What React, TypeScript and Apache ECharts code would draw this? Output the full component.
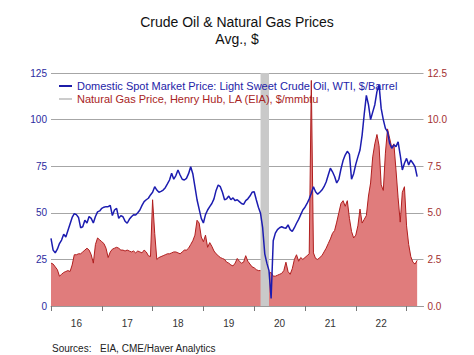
import React, { useEffect, useRef } from "react";
import * as echarts from "echarts";

// Semi-monthly observations (1st half / 2nd half of each month)
const oil2016 = [36.3, 30, 28.5, 30.5, 33.5, 35.4, 38.5, 37, 40.5, 44, 47.5, 49.5, 49, 47.5, 42, 42.5, 46, 44.5, 48, 47, 44.5, 48, 50.5, 51];
const oil2017 = [52.4, 53, 53.3, 53.3, 54, 48.5, 51.5, 52.4, 47, 48.5, 47.9, 45.5, 44.4, 46.5, 47.9, 49, 48.8, 50, 51.5, 54, 56, 57, 57.8, 59.6];
const oil2018 = [61, 64, 62.2, 61, 61.5, 62.2, 63.5, 65.5, 67.6, 71.2, 68, 70, 73, 70.3, 68, 67.6, 68.5, 71, 74.7, 71, 64, 57, 52, 47];
const oil2019 = [44.5, 49, 51.5, 53.3, 55, 57.5, 62, 64.9, 64, 61, 57, 57.5, 59, 57, 58, 56.5, 57, 56, 55, 54.5, 56.5, 57.5, 59, 61];
const oil2020 = [61.3, 57, 53, 49.7, 42, 28, 23, 19, 4, 35, 39.1, 41, 42, 42.5, 42, 41.7, 43.5, 41, 40, 42, 44.4, 46.5, 49, 51.5];
const oil2021 = [53, 55, 57.5, 60.5, 64, 61.3, 60, 61, 62.2, 64, 66.5, 70.3, 73.9, 72, 69.5, 66, 68, 73.5, 78, 81, 83, 81.5, 68, 71];
const oil2022 = [76, 80, 83.7, 91.7, 103, 113, 108, 100, 104, 108, 115, 118.6, 106, 100, 95.3, 93.5, 87.3, 84.6, 86.5, 85.5, 88.1, 81, 73, 76.6];
const oil2023 = [79.2, 75.7, 78.3, 76.6, 74.7, 69.4];

const gas2016 = [2.3, 2.25, 2.1, 1.95, 1.6, 1.7, 1.8, 1.85, 1.9, 1.85, 2.2, 2.75, 2.75, 2.8, 2.8, 2.9, 3.0, 3.1, 3.0, 2.75, 2.3, 3.3, 3.65, 3.55];
const gas2017 = [3.45, 3.35, 3.1, 2.6, 2.9, 3.05, 3.1, 3.15, 3.1, 3.0, 3.0, 2.95, 3.0, 2.95, 2.9, 2.95, 2.85, 2.95, 2.9, 2.85, 3.0, 2.9, 2.7, 2.65];
const gas2018 = [5.7, 3.9, 2.5, 2.6, 2.65, 2.7, 2.75, 2.8, 2.8, 2.85, 2.9, 2.9, 2.85, 2.8, 2.9, 3.0, 3.0, 3.1, 3.3, 3.5, 3.8, 4.6, 4.45, 3.7];
const gas2019 = [3.45, 3.8, 3.15, 3.4, 3.2, 2.95, 2.8, 2.7, 2.6, 2.55, 2.5, 2.35, 2.3, 2.2, 2.15, 2.3, 2.55, 2.4, 2.3, 2.35, 2.7, 2.4, 2.25, 2.1];
const gas2020 = [2.05, 1.95, 1.9, 1.9, 1.8, 1.75, 2.2, 1.75, 1.8, 1.6, 1.6, 1.65, 1.7, 1.75, 1.9, 2.35, 1.85, 1.7, 2.0, 2.5, 2.75, 2.4, 2.6, 2.5];
const gas2021 = [2.6, 2.7, 2.8, 12.1, 2.85, 2.55, 2.5, 2.6, 2.7, 2.9, 3.1, 3.35, 3.6, 3.9, 4.05, 4.5, 5.0, 5.5, 5.65, 5.35, 5.65, 4.7, 4.0, 3.65];
const gas2022 = [3.8, 4.3, 5.2, 4.45, 4.65, 4.85, 5.9, 6.6, 8.0, 8.7, 9.2, 8.6, 6.5, 6.2, 8.2, 9.5, 9.0, 8.5, 8.7, 7.3, 5.8, 4.5, 6.1, 6.4];
const gas2023 = [4.3, 3.3, 2.65, 2.35, 2.25, 2.45];

const firstYear = 2016;
const recessionStart = "2020-02-16";
const recessionEnd = "2020-04-16";

const OIL_NAME = "Domestic Spot Market Price: Light Sweet Crude Oil, WTI, $/Barrel";
const GAS_NAME = "Natural Gas Price, Henry Hub, LA (EIA), $/mmbtu";
const TITLE = "Crude Oil & Natural Gas Prices\nAvg., $";

const FONT = "'Liberation Sans', Arial, sans-serif";

export default function App() {
  const ref = useRef<HTMLDivElement>(null);
  useEffect(() => {
    if (!ref.current) return;
    const chart = echarts.init(ref.current, null, { renderer: "svg" });
    const oil = [...oil2016, ...oil2017, ...oil2018, ...oil2019, ...oil2020, ...oil2021, ...oil2022, ...oil2023];
    const gas = [...gas2016, ...gas2017, ...gas2018, ...gas2019, ...gas2020, ...gas2021, ...gas2022, ...gas2023];
    const pad = 3;
    const n = oil.length + pad;
    const categories = Array.from({ length: n }, (_, i) => {
      const y = firstYear + Math.floor(i / 24);
      const m = Math.floor((i % 24) / 2) + 1;
      return `${y}-${String(m).padStart(2, "0")}-${i % 2 ? "16" : "01"}`;
    });
    const oilData = categories.map((_, i) => (i < oil.length ? oil[i] : null));
    const gasData = categories.map((_, i) => (i < gas.length ? gas[i] : null));

    chart.setOption({
      animation: false,
      backgroundColor: "#ffffff",
      textStyle: { fontFamily: FONT },
      title: {
        text: TITLE,
        left: 237,
        top: 13,
        padding: 0,
        textAlign: "center",
        textStyle: { fontSize: 14, fontWeight: "normal", color: "#111", lineHeight: 17, fontFamily: FONT },
      },
      legend: {
        left: 59,
        top: 79.5,
        orient: "vertical",
        icon: "rect",
        itemWidth: 13,
        itemHeight: 2,
        itemGap: 0,
        selectedMode: false,
        padding: 0,
        textStyle: { fontSize: 11, lineHeight: 13, fontFamily: FONT },
        data: [
          { name: OIL_NAME, itemStyle: { color: "#1c1ca8" }, textStyle: { color: "#2323a8" } },
          { name: GAS_NAME, itemStyle: { color: "#cccccc" }, textStyle: { color: "#a82424" } },
        ],
      },
      grid: { left: 51, right: 50.5, top: 73, bottom: 49, containLabel: false },
      xAxis: {
        type: "category",
        data: categories,
        boundaryGap: false,
        axisLine: { show: true, lineStyle: { color: "#9a9a9a", width: 1 } },
        axisTick: {
          show: true,
          interval: (i: number) => i % 24 === 0,
          length: 5,
          lineStyle: { color: "#777", width: 1 },
        },
        axisLabel: {
          interval: (i: number) => i % 24 === 12,
          formatter: (v: string) => v.slice(2, 4),
          fontSize: 10,
          color: "#333",
          margin: 12,
          fontFamily: FONT,
        },
        splitLine: { show: false },
      },
      yAxis: [
        {
          type: "value",
          min: 0,
          max: 125,
          interval: 25,
          position: "left",
          axisLine: { show: false },
          axisTick: { show: false },
          axisLabel: { color: "#2b2ba0", fontSize: 10, margin: 4, fontFamily: FONT },
          splitLine: { show: true, lineStyle: { color: "#a6a6a6", width: 1 } },
        },
        {
          type: "value",
          min: 0,
          max: 12.5,
          interval: 2.5,
          position: "right",
          axisLine: { show: false },
          axisTick: { show: false },
          axisLabel: {
            color: "#a33030",
            fontSize: 10,
            margin: 4,
            fontFamily: FONT,
            formatter: (v: number) => v.toFixed(1),
          },
          splitLine: { show: false },
        },
      ],
      series: [
        {
          name: GAS_NAME,
          type: "line",
          yAxisIndex: 1,
          data: gasData,
          showSymbol: false,
          symbol: "none",
          z: 2,
          lineStyle: { color: "#b01e1e", width: 1 },
          itemStyle: { color: "#b01e1e" },
          areaStyle: { color: "#e07c7c", opacity: 1 },
          markArea: {
            silent: true,
            z: 3,
            itemStyle: { color: "#c9c9c9" },
            data: [[{ xAxis: recessionStart }, { xAxis: recessionEnd }]],
          },
        },
        {
          name: OIL_NAME,
          type: "line",
          yAxisIndex: 0,
          data: oilData,
          showSymbol: false,
          symbol: "none",
          z: 4,
          lineStyle: { color: "#1c1cb0", width: 1.5 },
          itemStyle: { color: "#1c1cb0" },
        },
      ],
      graphic: [
        {
          type: "text",
          left: 52,
          top: 343,
          style: { text: "Sources:", fontSize: 10, fill: "#222", fontFamily: FONT },
        },
        {
          type: "text",
          left: 100,
          top: 343,
          style: { text: "EIA, CME/Haver Analytics", fontSize: 10, fill: "#222", fontFamily: FONT },
        },
      ],
    });
    return () => chart.dispose();
  }, []);
  return (
    <div
      ref={ref}
      style={{ position: "fixed", left: 0, top: 0, width: 474, height: 355, background: "#fff" }}
    />
  );
}
